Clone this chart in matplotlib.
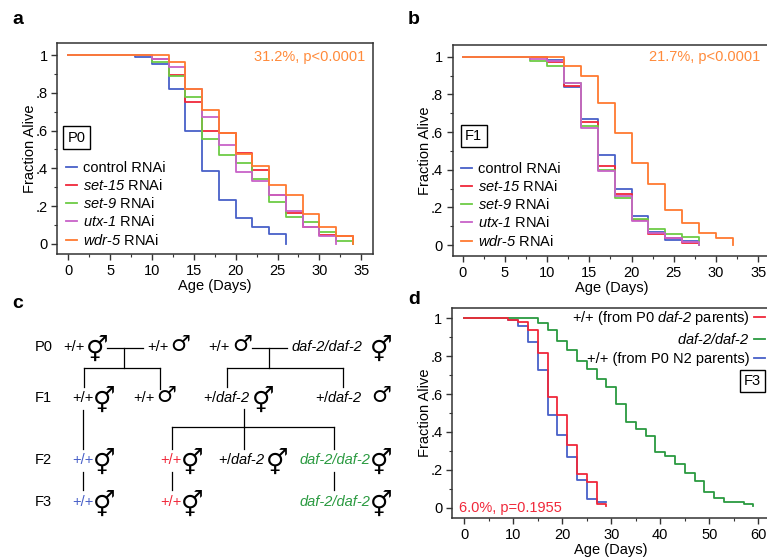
import matplotlib
matplotlib.use("Agg")
import matplotlib.pyplot as plt
from matplotlib.lines import Line2D
from matplotlib.ticker import MultipleLocator

plt.rcParams['font.family'] = ['Liberation Sans', 'DejaVu Sans']
plt.rcParams['mathtext.fontset'] = 'custom'
plt.rcParams['mathtext.it'] = 'Liberation Sans:italic'
plt.rcParams['mathtext.rm'] = 'Liberation Sans:italic'

# ---------------- data ----------------
# Panel a (P0)
a_labels = ["control RNAi", r"$\mathit{set}$-$\mathit{15}$ RNAi", r"$\mathit{set}$-$\mathit{9}$ RNAi",
            r"$\mathit{utx}$-$\mathit{1}$ RNAi", r"$\mathit{wdr}$-$\mathit{5}$ RNAi"]
a_ctrl_t = [0, 8, 10, 12, 14, 16, 18, 20, 22, 24, 26]
a_ctrl_s = [1, 0.99, 0.955, 0.82, 0.60, 0.385, 0.235, 0.14, 0.09, 0.055, 0]
a_set15_t = [0, 10, 12, 14, 16, 18, 20, 22, 24, 26, 28, 30, 32, 34]
a_set15_s = [1, 0.977, 0.896, 0.753, 0.60, 0.585, 0.482, 0.394, 0.26, 0.165, 0.09, 0.05, 0.04, 0]
a_set9_t = [0, 10, 12, 14, 16, 18, 20, 22, 24, 26, 28, 30, 32, 34]
a_set9_s = [1, 0.965, 0.889, 0.777, 0.558, 0.47, 0.431, 0.343, 0.223, 0.143, 0.117, 0.065, 0.016, 0]
a_utx1_t = [0, 10, 12, 14, 16, 18, 20, 22, 24, 26, 28, 30, 32]
a_utx1_s = [1, 0.98, 0.935, 0.822, 0.67, 0.525, 0.38, 0.335, 0.26, 0.175, 0.088, 0.04, 0]
a_wdr5_t = [0, 12, 14, 16, 18, 20, 22, 24, 26, 28, 30, 32, 34]
a_wdr5_s = [1, 0.965, 0.822, 0.71, 0.588, 0.475, 0.415, 0.31, 0.26, 0.159, 0.092, 0.044, 0]

# Panel b (F1)
b_ctrl_t = [0, 10, 12, 14, 16, 18, 20, 22, 24, 26, 28]
b_ctrl_s = [1, 0.985, 0.837, 0.667, 0.478, 0.30, 0.156, 0.07, 0.027, 0.02, 0]
b_set15_t = [0, 10, 12, 14, 16, 18, 20, 22, 24, 26, 28]
b_set15_s = [1, 0.97, 0.845, 0.653, 0.421, 0.269, 0.131, 0.06, 0.04, 0.012, 0]
b_set9_t = [0, 8, 10, 12, 14, 16, 18, 20, 22, 24, 26, 28]
b_set9_s = [1, 0.975, 0.953, 0.862, 0.632, 0.40, 0.25, 0.14, 0.085, 0.058, 0.045, 0]
b_utx1_t = [0, 8, 10, 12, 14, 16, 18, 20, 22, 24, 26, 28]
b_utx1_s = [1, 0.99, 0.975, 0.86, 0.62, 0.393, 0.262, 0.13, 0.065, 0.04, 0.015, 0]
b_wdr5_t = [0, 12, 14, 16, 18, 20, 22, 24, 26, 28, 30, 32]
b_wdr5_s = [1, 0.95, 0.90, 0.752, 0.593, 0.437, 0.322, 0.186, 0.117, 0.065, 0.035, 0]

# Panel d (F3)
d_labels = [r"+/+ (from P0 $\mathit{daf}$-$\mathit{2}$ parents)",
            r"$\mathit{daf}$-$\mathit{2/daf}$-$\mathit{2}$",
            "+/+ (from P0 N2 parents)"]
d_red_t = [0, 9, 11, 13, 15, 17, 19, 21, 23, 25, 27, 29]
d_red_s = [1, 0.993, 0.979, 0.94, 0.817, 0.584, 0.49, 0.333, 0.177, 0.136, 0.02, 0.01]
d_green_t = [0, 15, 17, 19, 21, 23, 25, 27, 29, 31, 33, 35, 37, 39, 41, 43, 45, 47, 49, 51, 53, 57, 59]
d_green_s = [1, 0.977, 0.937, 0.88, 0.83, 0.776, 0.731, 0.679, 0.636, 0.548, 0.454, 0.414,
             0.379, 0.296, 0.275, 0.231, 0.181, 0.143, 0.085, 0.049, 0.028, 0.019, 0.009]
d_blue_t = [0, 9, 11, 13, 15, 17, 19, 21, 23, 25, 27, 29]
d_blue_s = [1, 0.99, 0.961, 0.872, 0.725, 0.49, 0.384, 0.266, 0.145, 0.047, 0.033, 0.03]

y_ticks = [0, 0.2, 0.4, 0.6, 0.8, 1.0]
y_ticklabels = ["0", ".2", ".4", ".6", ".8", "1"]

C_BLUE = "#4860c8"
C_RED = "#f0283a"
C_GREEN = "#6dcc45"
C_PINK = "#c862c8"
C_ORANGE = "#ff7a30"
C_DGREEN = "#2a9a40"

FS = 10.5
W, H = 767, 558
fig = plt.figure(figsize=(W / 100, H / 100), dpi=100)


def px_axes(l, t, r, b):
    return fig.add_axes([l / W, 1 - b / H, (r - l) / W, (b - t) / H])


def style(ax, xmax_major, xminor):
    for s in ax.spines.values():
        s.set_color("#333333")
        s.set_linewidth(1.1)
    ax.set_yticks(y_ticks)
    ax.set_yticklabels(y_ticklabels)
    ax.yaxis.set_minor_locator(MultipleLocator(0.1))
    ax.xaxis.set_major_locator(MultipleLocator(xmax_major))
    ax.xaxis.set_minor_locator(MultipleLocator(xminor))
    ax.tick_params(which="major", length=4, width=1.0, labelsize=FS, color="#333333", pad=3)
    ax.tick_params(which="minor", length=2.5, width=0.8, color="#333333")
    ax.set_ylabel("Fraction Alive", fontsize=FS, labelpad=-1)
    ax.set_xlabel("Age (Days)", fontsize=FS, labelpad=1)


LW = 1.3
LEG = dict(frameon=False, fontsize=FS, handlelength=0.75, handletextpad=0.4,
           labelspacing=0.22, borderaxespad=0, borderpad=0)

# ---------------- panel a ----------------
axa = px_axes(57.3, 43, 373, 254)
for t, s, c in [(a_ctrl_t, a_ctrl_s, C_BLUE), (a_set15_t, a_set15_s, C_RED),
                (a_set9_t, a_set9_s, C_GREEN), (a_utx1_t, a_utx1_s, C_PINK),
                (a_wdr5_t, a_wdr5_s, C_ORANGE)]:
    axa.step(t, s, where="post", color=c, lw=LW)
axa.set_xlim(-1.3, 36.4)
axa.set_ylim(-0.053, 1.0635)
style(axa, 5, 2.5)
axa.text(0.975, 0.934, "31.2%, p<0.0001", transform=axa.transAxes, ha="right", va="center",
         color="#ff8a3a", fontsize=FS)
axa.text(0.062, 0.552, "P0", transform=axa.transAxes, ha="center", va="center", fontsize=FS,
         bbox=dict(boxstyle="square,pad=0.3", fc="white", ec="black", lw=1.0))
h = [Line2D([], [], color=c, lw=LW) for c in [C_BLUE, C_RED, C_GREEN, C_PINK, C_ORANGE]]
axa.legend(h, a_labels, loc="lower left", bbox_to_anchor=(0.028, 0.03), **LEG)

# ---------------- panel b ----------------
axb = px_axes(452.7, 45, 770, 256)
for t, s, c in [(b_ctrl_t, b_ctrl_s, C_BLUE), (b_set15_t, b_set15_s, C_RED),
                (b_set9_t, b_set9_s, C_GREEN), (b_utx1_t, b_utx1_s, C_PINK),
                (b_wdr5_t, b_wdr5_s, C_ORANGE)]:
    axb.step(t, s, where="post", color=c, lw=LW)
axb.set_xlim(-1.18, 36.4)
axb.set_ylim(-0.058, 1.062)
style(axb, 5, 2.5)
axb.text(0.968, 0.943, "21.7%, p<0.0001", transform=axb.transAxes, ha="right", va="center",
         color="#ff8a3a", fontsize=FS)
axb.text(0.066, 0.569, "F1", transform=axb.transAxes, ha="center", va="center", fontsize=FS,
         bbox=dict(boxstyle="square,pad=0.3", fc="white", ec="black", lw=1.0))
axb.legend(h, a_labels, loc="lower left", bbox_to_anchor=(0.026, 0.035), **LEG)

# ---------------- panel d ----------------
axd = px_axes(452, 308, 770, 518)
for t, s, c in [(d_blue_t, d_blue_s, C_BLUE), (d_green_t, d_green_s, C_DGREEN),
                (d_red_t, d_red_s, C_RED)]:
    axd.step(t, s, where="post", color=c, lw=LW)
axd.set_xlim(-2.5, 62.4)
axd.set_ylim(-0.054, 1.054)
style(axd, 10, 5)
axd.text(0.022, 0.048, "6.0%, p=0.1955", transform=axd.transAxes, ha="left", va="center",
         color=C_RED, fontsize=FS)
axd.text(0.945, 0.652, "F3", transform=axd.transAxes, ha="center", va="center", fontsize=FS,
         bbox=dict(boxstyle="square,pad=0.3", fc="white", ec="black", lw=1.0))
hd = [Line2D([], [], color=c, lw=LW) for c in [C_RED, C_DGREEN, C_BLUE]]
legd = dict(LEG)
legd.update(handletextpad=0.3, labelspacing=0.35)
axd.legend(hd, d_labels, loc="upper right", bbox_to_anchor=(0.985, 0.995), markerfirst=False, **legd)

# ---------------- overlay: panel letters and panel c ----------------
ov = fig.add_axes([0, 0, 1, 1], zorder=-1)
ov.set_xlim(0, W)
ov.set_ylim(H, 0)
ov.axis("off")

for ch, x, y in [("a", 18, 19), ("b", 414, 19), ("c", 18, 303), ("d", 414, 300)]:
    ov.text(x, y, ch, fontsize=14, fontweight="bold", ha="center", va="center")

SYM = ["DejaVu Sans"]
HERM = "\u26a5"
MALE = "\u2642"


def txt(x, y, s, color="black", italic=False):
    ov.text(x, y, s, ha="left", va="center", fontsize=FS, color=color,
            style="italic" if italic else "normal")


def herm(x, y):
    ov.text(x, y + 3, HERM, ha="center", va="center", fontsize=18, family=SYM)


def male(x, y):
    ov.text(x, y - 2, MALE, ha="center", va="center", fontsize=16, family=SYM)


rows = {"P0": 347, "F1": 398, "F2": 460, "F3": 502}
for k, y in rows.items():
    txt(35, y, k)

y = rows["P0"]
txt(63, y, "+/+"); herm(97, y)
txt(147, y, "+/+"); male(180, y)
txt(208, y, "+/+"); male(242, y)
txt(292, y, "daf-2/daf-2", italic=True); herm(381, y)

y = rows["F1"]
txt(72, y, "+/+"); herm(104, y)
txt(133, y, "+/+"); male(166, y)
txt(203, y, r"+/$\mathit{daf}$-$\mathit{2}$"); herm(263, y)
txt(315, y, r"+/$\mathit{daf}$-$\mathit{2}$"); male(381, y)

y = rows["F2"]
txt(72, y, "+/+", color=C_BLUE); herm(104, y)
txt(160, y, "+/+", color=C_RED); herm(192, y)
txt(218, y, r"+/$\mathit{daf}$-$\mathit{2}$"); herm(277, y)
txt(300, y, "daf-2/daf-2", color=C_DGREEN, italic=True); herm(381, y)

y = rows["F3"]
txt(72, y, "+/+", color=C_BLUE); herm(104, y)
txt(160, y, "+/+", color=C_RED); herm(192, y)
txt(300, y, "daf-2/daf-2", color=C_DGREEN, italic=True); herm(381, y)

LK = dict(color="black", lw=0.9)
segs = [
    ((107, 143), (347.7, 347.7)), ((124.3, 124.3), (347.7, 367.7)), ((84, 160), (367.7, 367.7)),
    ((84, 84), (367.7, 387)), ((160, 160), (367.7, 389)),
    ((252, 287), (347.7, 347.7)), ((269.3, 269.3), (347.7, 367.7)), ((226.7, 342.7), (367.7, 367.7)),
    ((226.7, 226.7), (367.7, 387)), ((342.7, 342.7), (367.7, 387)),
    ((83.3, 83.3), (410, 449)), ((83.3, 83.3), (472, 490)),
    ((244.3, 244.3), (409, 426.7)), ((171.7, 334.3), (426.7, 426.7)),
    ((171.7, 171.7), (426.7, 449)), ((244.3, 244.3), (426.7, 449)), ((334.3, 334.3), (426.7, 449)),
    ((171.7, 171.7), (472, 490)), ((334.3, 334.3), (472, 490)),
]
for xs, ys in segs:
    ov.plot(xs, ys, **LK)

fig.savefig("out.png", dpi=100)
